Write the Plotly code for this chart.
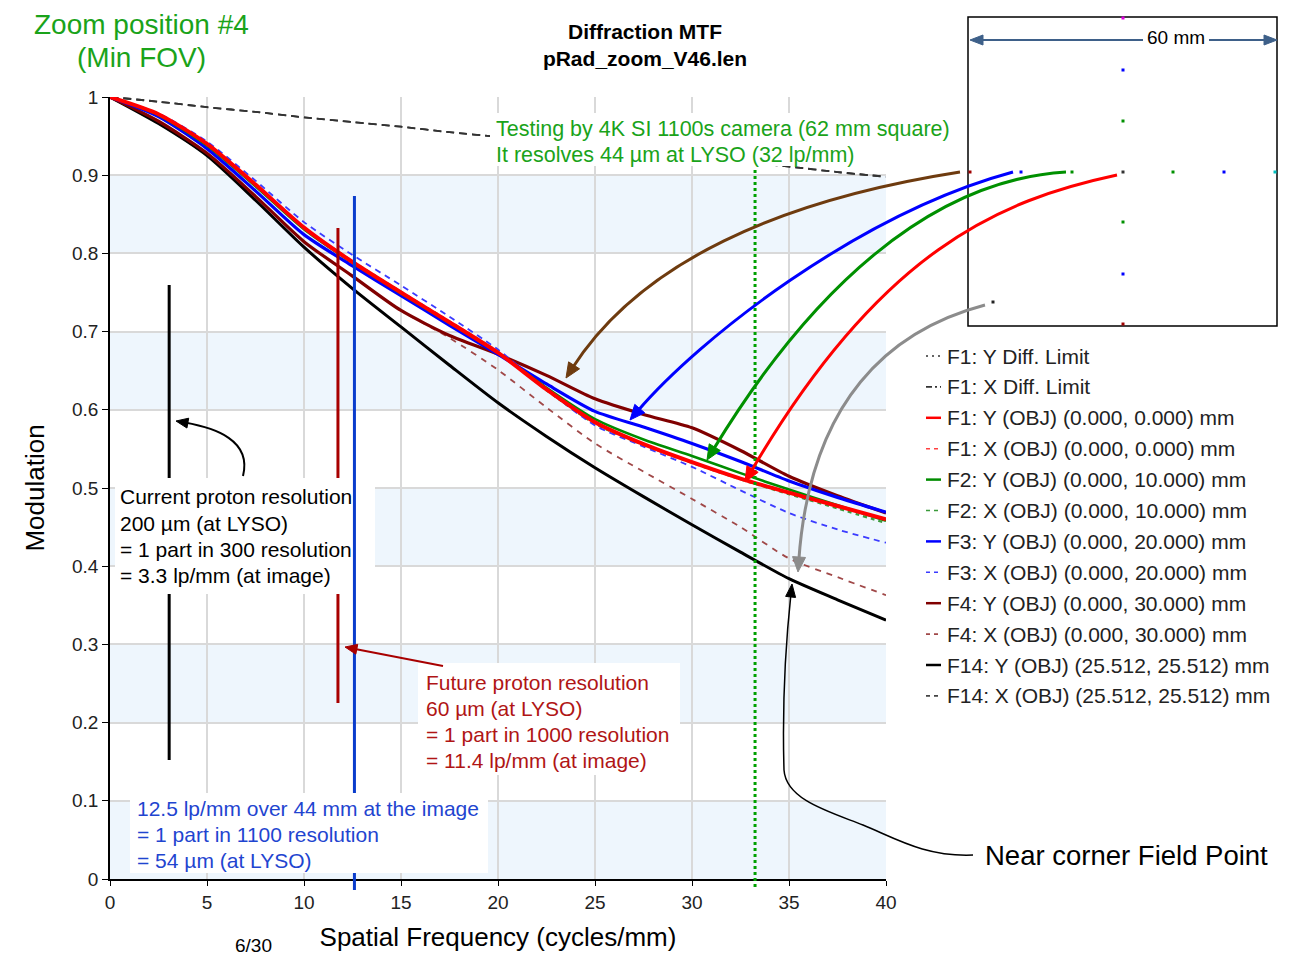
import math
import plotly.graph_objects as go

# ---------------- data ----------------
freq = [0, 2.5, 5, 7.5, 10, 12.5, 15, 17.5, 20, 22.5, 25, 27.5, 30, 32.5, 35, 37.5, 40]

f1_y_diff = [1.000, 0.994, 0.987, 0.981, 0.974, 0.968, 0.962, 0.955, 0.949, 0.943, 0.936, 0.930, 0.923, 0.917, 0.911, 0.904, 0.898]
f1_x_diff = [1.000, 0.994, 0.987, 0.981, 0.974, 0.968, 0.962, 0.955, 0.949, 0.943, 0.936, 0.930, 0.923, 0.917, 0.911, 0.904, 0.898]
f1_y = [1.000, 0.978, 0.940, 0.888, 0.833, 0.789, 0.750, 0.712, 0.673, 0.626, 0.584, 0.556, 0.533, 0.512, 0.494, 0.477, 0.460]
f1_x = [1.000, 0.978, 0.940, 0.888, 0.833, 0.789, 0.750, 0.712, 0.673, 0.626, 0.584, 0.556, 0.533, 0.512, 0.494, 0.477, 0.460]
f2_y = [1.000, 0.977, 0.938, 0.886, 0.831, 0.788, 0.749, 0.711, 0.673, 0.628, 0.588, 0.562, 0.541, 0.519, 0.498, 0.478, 0.458]
f2_x = [1.000, 0.978, 0.940, 0.888, 0.833, 0.790, 0.751, 0.713, 0.674, 0.625, 0.582, 0.555, 0.532, 0.511, 0.492, 0.474, 0.455]
f3_y = [1.000, 0.975, 0.934, 0.880, 0.824, 0.784, 0.746, 0.708, 0.671, 0.633, 0.598, 0.578, 0.557, 0.534, 0.509, 0.488, 0.469]
f3_x = [1.000, 0.979, 0.943, 0.893, 0.840, 0.798, 0.759, 0.719, 0.677, 0.626, 0.580, 0.553, 0.527, 0.497, 0.468, 0.447, 0.430]
f4_y = [1.000, 0.969, 0.928, 0.873, 0.815, 0.771, 0.727, 0.695, 0.671, 0.644, 0.614, 0.594, 0.577, 0.548, 0.515, 0.490, 0.468]
f4_x = [1.000, 0.969, 0.928, 0.873, 0.815, 0.771, 0.727, 0.692, 0.651, 0.603, 0.557, 0.521, 0.486, 0.450, 0.410, 0.386, 0.363]
f14_y = [1.000, 0.966, 0.925, 0.868, 0.808, 0.755, 0.706, 0.657, 0.609, 0.566, 0.526, 0.489, 0.453, 0.418, 0.384, 0.357, 0.331]
f14_x = [1.000, 0.966, 0.925, 0.868, 0.808, 0.755, 0.706, 0.657, 0.609, 0.566, 0.526, 0.489, 0.453, 0.418, 0.384, 0.357, 0.331]

series_names = [
    "F1: Y Diff. Limit", "F1: X Diff. Limit",
    "F1: Y (OBJ) (0.000, 0.000) mm", "F1: X (OBJ) (0.000, 0.000) mm",
    "F2: Y (OBJ) (0.000, 10.000) mm", "F2: X (OBJ) (0.000, 10.000) mm",
    "F3: Y (OBJ) (0.000, 20.000) mm", "F3: X (OBJ) (0.000, 20.000) mm",
    "F4: Y (OBJ) (0.000, 30.000) mm", "F4: X (OBJ) (0.000, 30.000) mm",
    "F14: Y (OBJ) (25.512, 25.512) mm", "F14: X (OBJ) (25.512, 25.512) mm",
]
series_values = [f1_y_diff, f1_x_diff, f1_y, f1_x, f2_y, f2_x, f3_y, f3_x, f4_y, f4_x, f14_y, f14_x]

x_ticks = [0, 5, 10, 15, 20, 25, 30, 35, 40]
y_ticks = [0, 0.1, 0.2, 0.3, 0.4, 0.5, 0.6, 0.7, 0.8, 0.9, 1]
y_tick_text = ["0", "0.1", "0.2", "0.3", "0.4", "0.5", "0.6", "0.7", "0.8", "0.9", "1"]

current_res_x = 3.05
future_res_x = 11.75
camera_res_x = 12.6
camera_test_x = 33.25

# ---------------- styles ----------------
FONT = "Liberation Sans, Arial, sans-serif"
styles = [  # color, dash, width (plot), legend dash
    ("#333333", "8px,5px", 1.8, "2px,4px"),
    ("#333333", "8px,5px", 1.8, "6px,3px,2px,3px"),
    ("#ff0000", "solid", 4.0, "solid"),
    ("#ff4040", "4px,4px", 1.6, "4px,4px"),
    ("#008c00", "solid", 2.6, "solid"),
    ("#3a9a3a", "4px,4px", 2.2, "4px,4px"),
    ("#0000ff", "solid", 3.2, "solid"),
    ("#3b3bff", "6px,5px", 1.8, "4px,4px"),
    ("#800000", "solid", 3.2, "solid"),
    ("#a04848", "6px,6px", 1.8, "4px,4px"),
    ("#000000", "solid", 3.0, "solid"),
    ("#444444", "6px,5px", 1.6, "4px,4px"),
]
draw_order = [0, 1, 11, 10, 9, 8, 5, 7, 3, 6, 4, 2]

# page shows the figure with an 8 px offset; work in reference pixel coordinates
OFF = 8
W, H = 1291 - OFF, 965 - OFF
PL, PR, PT, PB = 110, 886, 97, 879   # plot area in reference pixels


def px(p):
    return (p - PL) / (PR - PL)


def py(p):
    return (PB - p) / (PB - PT)


def fx(v):
    return v / 40.0


fig = go.Figure()
for i in draw_order:
    c, d, w, _ = styles[i]
    fig.add_trace(go.Scatter(
        x=freq, y=series_values[i], mode="lines", name=series_names[i],
        line=dict(color=c, dash=d, width=w, shape="spline", smoothing=0.7),
        showlegend=False))

shapes = []
annots = []

for lo in [0.0, 0.2, 0.4, 0.6, 0.8]:
    shapes.append(dict(type="rect", xref="paper", yref="paper", x0=0, x1=1, y0=lo, y1=lo + 0.1,
                       fillcolor="#eef6fd", line=dict(width=0), layer="below"))


def vline(x, y0, y1, color, width, dash="solid"):
    shapes.append(dict(type="line", xref="paper", yref="paper", x0=fx(x), x1=fx(x), y0=y0, y1=y1,
                       line=dict(color=color, width=width, dash=dash), layer="above"))


def white_box(x0, y0, x1, y1):
    shapes.append(dict(type="rect", xref="paper", yref="paper", x0=px(x0), x1=px(x1), y0=py(y1), y1=py(y0),
                       fillcolor="white", line=dict(width=0), layer="above"))


def text_lines(lines, x, y0, dy, color, size, anchor="left"):
    for k, t in enumerate(lines):
        annots.append(dict(text=t, xref="paper", yref="paper", x=px(x), y=py(y0 + k * dy),
                           xanchor=anchor, yanchor="middle", showarrow=False,
                           font=dict(family=FONT, size=size, color=color)))


def arrowhead(tip, frm, L, Wd, color):
    dx, dy = tip[0] - frm[0], tip[1] - frm[1]
    n = math.hypot(dx, dy)
    ux, uy = dx / n, dy / n
    bx, by = tip[0] - L * ux, tip[1] - L * uy
    nx, ny = -uy, ux
    c1 = (bx + Wd * nx, by + Wd * ny)
    c2 = (bx - Wd * nx, by - Wd * ny)
    path = "M{},{} L{},{} L{},{} Z".format(px(tip[0]), py(tip[1]), px(c1[0]), py(c1[1]), px(c2[0]), py(c2[1]))
    shapes.append(dict(type="path", xref="paper", yref="paper", path=path, fillcolor=color,
                       line=dict(color=color, width=1), layer="above"))


def curve_arrow(pts, color, width, L=15, Wd=6.5):
    tip, prev = pts[-1], pts[-2]
    dx, dy = tip[0] - prev[0], tip[1] - prev[1]
    n = math.hypot(dx, dy)
    ux, uy = dx / n, dy / n
    s = L * 0.75
    end = (tip[0] - s * ux, tip[1] - s * uy)
    p = pts[:-1] + [end]
    d = "M{},{}".format(px(p[0][0]), py(p[0][1]))
    if len(p) == 2:
        d += " L{},{}".format(px(p[1][0]), py(p[1][1]))
    else:
        for k in range(1, len(p), 3):
            a, b, c = p[k], p[k + 1], p[k + 2]
            d += " C{},{} {},{} {},{}".format(px(a[0]), py(a[1]), px(b[0]), py(b[1]), px(c[0]), py(c[1]))
    shapes.append(dict(type="path", xref="paper", yref="paper", path=d,
                       line=dict(color=color, width=width), layer="above"))
    arrowhead(tip, prev, L, Wd, color)


# resolution markers and boxes (order matters for overlap)
vline(current_res_x, py(285), py(760), "#000000", 3)
vline(future_res_x, py(228), py(703), "#a80000", 3)
white_box(115, 478, 375, 594)
vline(camera_res_x, py(196), py(890), "#0a3ccc", 3)
white_box(130, 793, 488, 873)
white_box(418, 663, 680, 775)
white_box(490, 113, 955, 166)
vline(camera_test_x, py(170), py(888), "#00a000", 3, "3px,3px")

text_lines(["Current proton resolution", "200 µm (at LYSO)", "= 1 part in 300 resolution",
            "= 3.3 lp/mm (at image)"], 118, 497, 26, "#000000", 21)
text_lines(["Future proton resolution", "60 µm (at LYSO)", "= 1 part in 1000 resolution",
            "= 11.4 lp/mm (at image)"], 424, 682, 26, "#b01515", 21)
text_lines(["12.5 lp/mm over 44 mm at the image", "= 1 part in 1100 resolution",
            "= 54 µm (at LYSO)"], 135, 808, 26, "#1f45d0", 21)
text_lines(["Testing by 4K SI 1100s camera (62 mm square)", "It resolves 44 µm at LYSO (32 lp/mm)"],
           494, 129, 26, "#1aa31a", 21.5)
text_lines(["Zoom position #4"], 141, 24, 0, "#1aa31a", 28, "center")
text_lines(["(Min FOV)"], 141, 58, 0, "#1aa31a", 28, "center")
text_lines(["Near corner Field Point"], 983, 855, 0, "#000000", 27.5)
text_lines(["6/30"], 253, 945, 0, "#000000", 19, "center")

# inset (field layout) box
shapes.append(dict(type="rect", xref="paper", yref="paper", x0=px(968), x1=px(1277), y0=py(326), y1=py(17),
                   fillcolor="white", line=dict(color="black", width=1.5), layer="above"))
inset_dots = [
    (1123, 18, "#e000e0"), (1123, 70, "#0000ff"), (1123, 121, "#009000"), (1123, 172, "#333333"),
    (1123, 222, "#009000"), (1123, 274, "#0000ff"), (1123, 324, "#a00000"),
    (970, 172, "#a00000"), (1021, 172, "#0000ff"), (1072, 172, "#009000"),
    (1173, 172, "#009000"), (1224, 172, "#0000ff"), (1275, 172, "#00c0c0"), (993, 302, "#222222"),
]
for (dx_, dy_, c) in inset_dots:
    shapes.append(dict(type="rect", xref="paper", yref="paper", x0=px(dx_ - 1.5), x1=px(dx_ + 1.5),
                       y0=py(dy_ + 1.5), y1=py(dy_ - 1.5), fillcolor=c, line=dict(width=0), layer="above"))
for (a, b) in [(980, 1143), (1209, 1267)]:
    shapes.append(dict(type="line", xref="paper", yref="paper", x0=px(a), x1=px(b), y0=py(40), y1=py(40),
                       line=dict(color="#3e6089", width=2), layer="above"))
arrowhead((970, 40), (990, 40), 13, 5, "#3e6089")
arrowhead((1277, 40), (1257, 40), 13, 5, "#3e6089")
text_lines(["60 mm"], 1176, 37, 0, "#000000", 19, "center")

# pointer arrows
curve_arrow([(960, 172), (780, 200), (640, 262), (566, 378)], "#6e3b0f", 3)
curve_arrow([(1013, 172), (858, 214), (699, 339), (630, 420)], "#0000ff", 3)
curve_arrow([(1066, 172), (930, 180), (810, 290), (707, 460)], "#009000", 3)
curve_arrow([(1117, 175), (1000, 200), (880, 250), (745, 482)], "#ff0000", 3)
curve_arrow([(985, 305), (890, 330), (810, 400), (798, 572)], "#8c8c8c", 3)
curve_arrow([(973, 855), (925, 857), (895, 838), (863, 825), (830, 812), (786, 800), (784, 770),
             (782, 700), (786, 640), (792, 584)], "#000000", 1.5, L=13, Wd=5)
curve_arrow([(243, 476), (252, 440), (215, 428), (176, 421)], "#000000", 2, L=12, Wd=5)
curve_arrow([(443, 666), (345, 647)], "#a80000", 2, L=12, Wd=5)

# custom legend
for i, name in enumerate(series_names):
    c, _, w, ld = styles[i]
    yy = 356 + i * 30.9
    shapes.append(dict(type="line", xref="paper", yref="paper", x0=px(926), x1=px(941), y0=py(yy), y1=py(yy),
                       line=dict(color=c, width=2.5 if ld == "solid" else 1.6, dash=ld), layer="above"))
    text_lines([name], 945, yy, 0, "#222222", 21)

# right frame edge
shapes.append(dict(type="line", xref="paper", yref="paper", x0=px(1286), x1=px(1286), y0=py(0), y1=py(965),
                   line=dict(color="#999999", width=1.5), layer="above"))

fig.update_layout(
    width=W, height=H,
    margin=dict(l=PL - OFF, r=W - (PR - OFF), t=PT - OFF, b=H - (PB - OFF), autoexpand=False),
    paper_bgcolor="white", plot_bgcolor="white",
    font=dict(family=FONT, size=19, color="#222222"),
    title=dict(text="<b>Diffraction MTF</b><br><b>pRad_zoom_V46.len</b>", x=px(645), xref="paper",
               xanchor="center", y=1 - 31 / H, yanchor="middle",
               font=dict(family=FONT, size=21, color="#000000")),
    xaxis=dict(range=[0, 40], tickvals=x_ticks, showgrid=True, gridcolor="#d9d9d9", gridwidth=1.5,
               showline=True, linecolor="black", linewidth=1.5, ticks="outside", ticklen=5,
               tickcolor="black", zeroline=False, tickfont=dict(size=19, color="#222222"),
               title=dict(text="Spatial Frequency (cycles/mm)", standoff=16,
                          font=dict(size=26, color="#000000"))),
    yaxis=dict(range=[0, 1], tickvals=y_ticks, ticktext=y_tick_text, showgrid=True, gridcolor="#d9d9d9",
               gridwidth=1.5, showline=True, linecolor="black", linewidth=1.5, ticks="outside", ticklen=6,
               tickcolor="black", zeroline=False, tickfont=dict(size=19, color="#222222"),
               title=dict(text="Modulation", standoff=20, font=dict(size=26, color="#000000"))),
    shapes=shapes,
    annotations=annots,
    showlegend=False,
)

fig.write_html("out.html")
